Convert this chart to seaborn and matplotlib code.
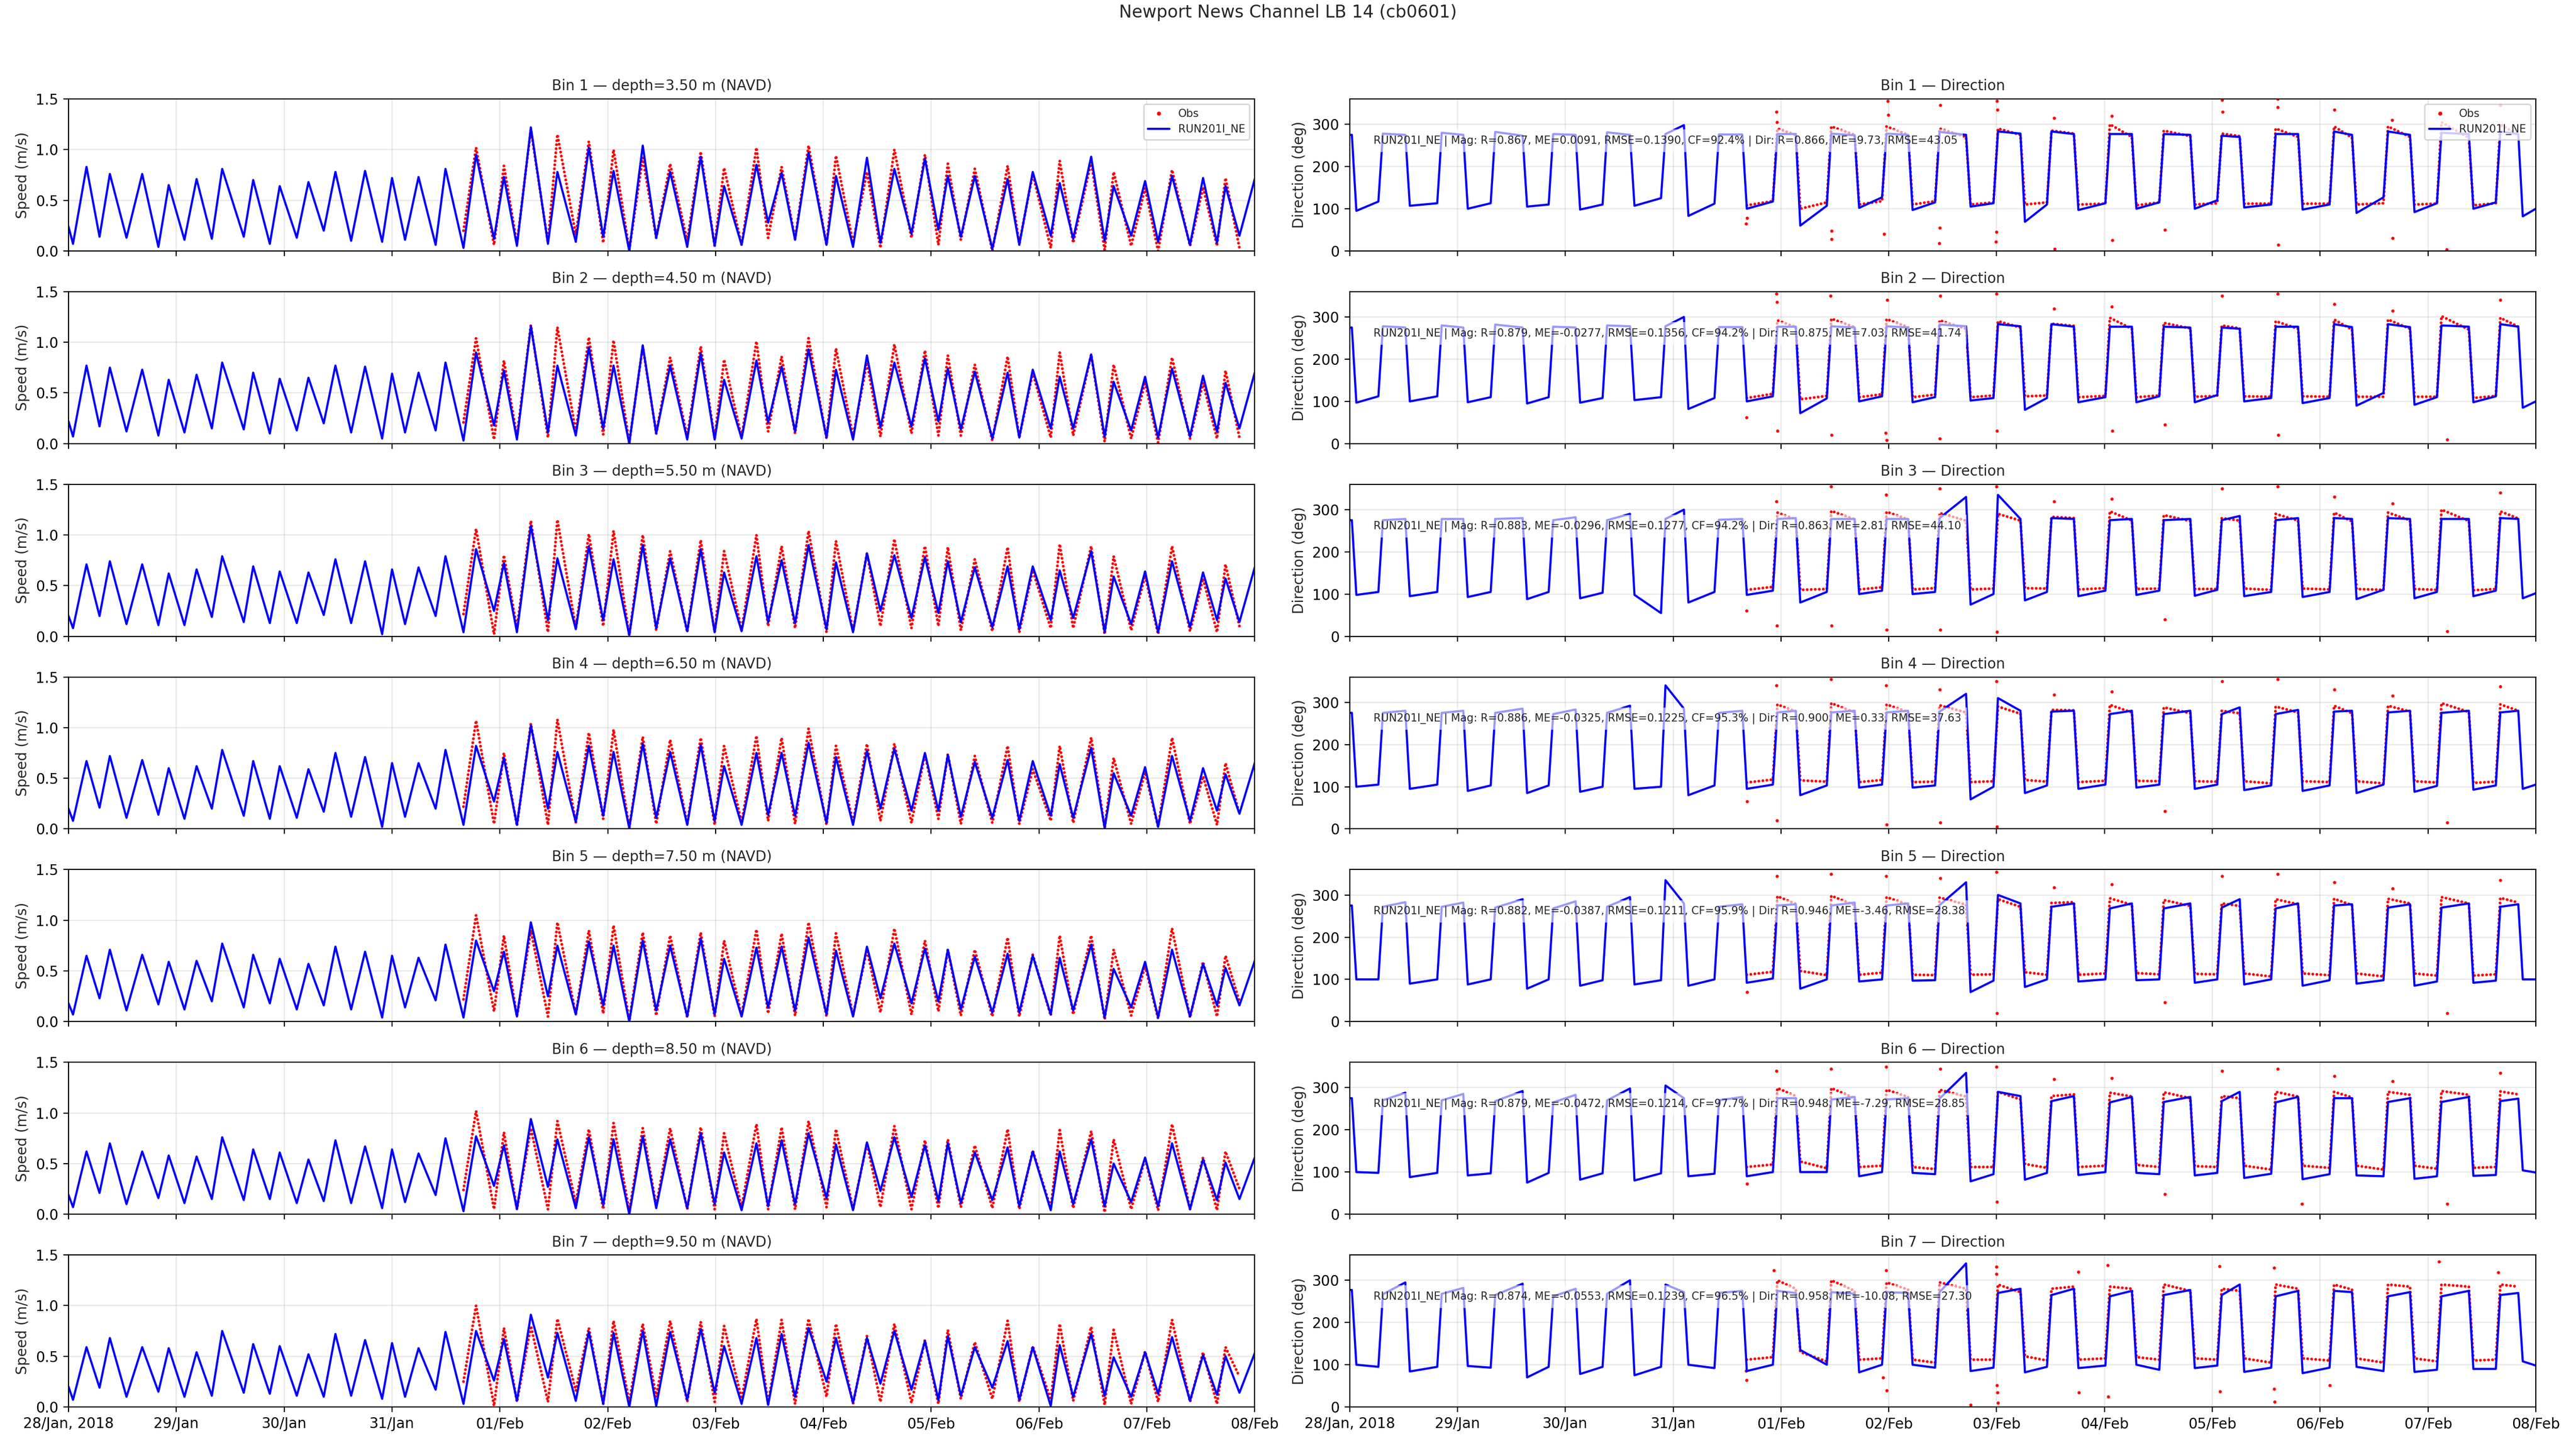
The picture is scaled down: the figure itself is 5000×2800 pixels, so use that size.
import matplotlib
matplotlib.use("Agg")
import matplotlib.pyplot as plt
from matplotlib.lines import Line2D
import pandas as pd
import seaborn as sns

# ---- data (hours from 28 Jan 2018 00:00) ----
t0 = pd.Timestamp("2018-01-28")

# times of the model speed peaks / slacks (shared by all bins)
hours = [0, 1.0, 4.0, 6.9, 9.2, 12.9, 16.4, 20.0, 22.3, 25.8,
         28.5, 31.9, 34.2, 39.0, 41.1, 44.8, 47.0, 50.8, 53.4, 56.8,
         59.4, 62.9, 66.0, 69.8, 72.0, 74.9, 77.9, 81.7, 83.9, 87.9,
         90.7, 94.7, 96.9, 99.8, 102.9, 106.7, 108.8, 112.9, 115.8, 119.0,
         121.3, 124.8, 127.8, 130.8, 133.9, 137.7, 140.7, 143.8, 145.9, 149.8,
         153.1, 155.7, 158.7, 161.7, 164.7, 168.7, 170.8, 174.6, 177.7, 180.7,
         183.8, 187.6, 190.6, 193.6, 195.7, 198.6, 201.7, 205.6, 209.0, 211.6,
         214.6, 218.6, 220.6, 223.6, 227.6, 230.6, 232.6, 236.5, 239.6, 242.5,
         245.6, 249.6, 252.5, 255.6, 257.5, 260.6, 264.0]
obs_first = 29  # observations start at hours[29]

depths = [3.50, 4.50, 5.50, 6.50, 7.50, 8.50, 9.50]

spd_b1 = [0.24, 0.07, 0.83, 0.14, 0.76, 0.13, 0.76, 0.04, 0.65, 0.11,
          0.71, 0.12, 0.81, 0.14, 0.70, 0.07, 0.64, 0.13, 0.68, 0.20,
          0.78, 0.10, 0.79, 0.09, 0.72, 0.11, 0.73, 0.06, 0.81, 0.03,
          0.95, 0.12, 0.73, 0.05, 1.22, 0.07, 0.78, 0.09, 1.02, 0.14,
          0.79, 0.00, 1.04, 0.13, 0.78, 0.04, 0.93, 0.05, 0.64, 0.06,
          0.85, 0.28, 0.77, 0.11, 0.97, 0.06, 0.74, 0.04, 0.92, 0.08,
          0.81, 0.17, 0.91, 0.21, 0.74, 0.14, 0.74, 0.02, 0.71, 0.06,
          0.78, 0.15, 0.67, 0.12, 0.93, 0.10, 0.64, 0.15, 0.69, 0.09,
          0.74, 0.06, 0.72, 0.08, 0.64, 0.15, 0.71]
spd_b2 = [0.22, 0.07, 0.77, 0.17, 0.75, 0.12, 0.73, 0.08, 0.63, 0.11,
          0.68, 0.15, 0.80, 0.14, 0.70, 0.10, 0.64, 0.13, 0.65, 0.20,
          0.77, 0.11, 0.76, 0.05, 0.69, 0.11, 0.70, 0.13, 0.80, 0.03,
          0.90, 0.18, 0.72, 0.04, 1.16, 0.11, 0.77, 0.08, 0.95, 0.15,
          0.77, 0.00, 0.97, 0.10, 0.77, 0.04, 0.89, 0.04, 0.63, 0.05,
          0.82, 0.21, 0.76, 0.12, 0.93, 0.06, 0.73, 0.04, 0.87, 0.16,
          0.80, 0.17, 0.84, 0.22, 0.74, 0.14, 0.71, 0.05, 0.70, 0.06,
          0.73, 0.15, 0.66, 0.15, 0.88, 0.07, 0.61, 0.13, 0.66, 0.06,
          0.74, 0.07, 0.67, 0.12, 0.60, 0.15, 0.70]
spd_b3 = [0.20, 0.08, 0.71, 0.20, 0.74, 0.12, 0.71, 0.11, 0.62, 0.11,
          0.66, 0.19, 0.79, 0.14, 0.69, 0.13, 0.64, 0.13, 0.63, 0.21,
          0.76, 0.13, 0.74, 0.02, 0.66, 0.12, 0.68, 0.20, 0.79, 0.04,
          0.86, 0.25, 0.72, 0.04, 1.09, 0.16, 0.77, 0.07, 0.89, 0.16,
          0.76, 0.01, 0.90, 0.08, 0.77, 0.05, 0.86, 0.04, 0.63, 0.05,
          0.79, 0.14, 0.75, 0.13, 0.90, 0.07, 0.73, 0.04, 0.82, 0.25,
          0.80, 0.18, 0.78, 0.23, 0.74, 0.14, 0.68, 0.09, 0.69, 0.07,
          0.69, 0.16, 0.65, 0.18, 0.84, 0.04, 0.59, 0.12, 0.64, 0.04,
          0.74, 0.09, 0.63, 0.16, 0.57, 0.14, 0.68]
spd_b4 = [0.20, 0.08, 0.67, 0.21, 0.72, 0.11, 0.68, 0.14, 0.60, 0.10,
          0.62, 0.20, 0.78, 0.13, 0.67, 0.10, 0.62, 0.11, 0.59, 0.17,
          0.75, 0.12, 0.71, 0.02, 0.65, 0.12, 0.65, 0.20, 0.78, 0.04,
          0.82, 0.27, 0.70, 0.04, 1.02, 0.20, 0.76, 0.07, 0.82, 0.13,
          0.76, 0.01, 0.84, 0.11, 0.76, 0.04, 0.83, 0.08, 0.62, 0.04,
          0.75, 0.14, 0.75, 0.13, 0.85, 0.06, 0.71, 0.04, 0.77, 0.20,
          0.79, 0.18, 0.75, 0.18, 0.73, 0.12, 0.66, 0.11, 0.68, 0.08,
          0.67, 0.13, 0.64, 0.11, 0.80, 0.01, 0.55, 0.13, 0.61, 0.02,
          0.72, 0.08, 0.60, 0.18, 0.54, 0.15, 0.65]
spd_b5 = [0.18, 0.07, 0.65, 0.23, 0.71, 0.11, 0.66, 0.17, 0.59, 0.12,
          0.60, 0.20, 0.77, 0.14, 0.66, 0.18, 0.62, 0.12, 0.57, 0.16,
          0.74, 0.12, 0.69, 0.04, 0.65, 0.14, 0.63, 0.21, 0.76, 0.04,
          0.80, 0.30, 0.69, 0.05, 0.98, 0.25, 0.75, 0.07, 0.79, 0.16,
          0.75, 0.00, 0.80, 0.11, 0.75, 0.05, 0.82, 0.07, 0.62, 0.05,
          0.73, 0.14, 0.74, 0.11, 0.83, 0.07, 0.70, 0.05, 0.74, 0.23,
          0.77, 0.18, 0.72, 0.20, 0.71, 0.12, 0.64, 0.09, 0.67, 0.09,
          0.65, 0.07, 0.63, 0.11, 0.76, 0.04, 0.52, 0.14, 0.59, 0.04,
          0.71, 0.05, 0.57, 0.16, 0.53, 0.16, 0.60]
spd_b6 = [0.19, 0.07, 0.62, 0.21, 0.70, 0.10, 0.62, 0.16, 0.58, 0.11,
          0.57, 0.15, 0.76, 0.14, 0.64, 0.15, 0.61, 0.11, 0.54, 0.13,
          0.73, 0.11, 0.67, 0.06, 0.64, 0.12, 0.60, 0.19, 0.75, 0.03,
          0.77, 0.28, 0.68, 0.05, 0.94, 0.27, 0.74, 0.06, 0.76, 0.09,
          0.74, 0.00, 0.77, 0.06, 0.74, 0.06, 0.80, 0.10, 0.61, 0.04,
          0.70, 0.08, 0.73, 0.10, 0.80, 0.16, 0.69, 0.04, 0.71, 0.23,
          0.76, 0.17, 0.68, 0.13, 0.70, 0.11, 0.61, 0.14, 0.66, 0.08,
          0.62, 0.04, 0.62, 0.10, 0.74, 0.08, 0.50, 0.12, 0.56, 0.08,
          0.70, 0.05, 0.54, 0.14, 0.51, 0.15, 0.56]
spd_b7 = [0.20, 0.07, 0.59, 0.19, 0.68, 0.10, 0.59, 0.15, 0.58, 0.10,
          0.54, 0.11, 0.75, 0.14, 0.62, 0.13, 0.60, 0.11, 0.52, 0.10,
          0.72, 0.11, 0.66, 0.08, 0.63, 0.10, 0.58, 0.17, 0.74, 0.03,
          0.75, 0.26, 0.67, 0.06, 0.91, 0.29, 0.73, 0.06, 0.74, 0.03,
          0.73, 0.00, 0.75, 0.01, 0.74, 0.07, 0.77, 0.14, 0.60, 0.03,
          0.68, 0.02, 0.72, 0.10, 0.78, 0.25, 0.68, 0.04, 0.68, 0.23,
          0.75, 0.17, 0.65, 0.07, 0.70, 0.11, 0.59, 0.19, 0.65, 0.07,
          0.59, 0.01, 0.61, 0.10, 0.72, 0.11, 0.49, 0.10, 0.54, 0.13,
          0.69, 0.06, 0.51, 0.12, 0.50, 0.14, 0.53]

# observed speed at hours[29:86]
obs_spd_b1 = [0.20, 1.02, 0.06, 0.84, 0.07, 1.20, 0.08, 1.15, 0.16, 1.08,
              0.08, 1.00, 0.01, 0.92, 0.13, 0.86, 0.10, 0.98, 0.05, 0.82,
              0.06, 1.02, 0.13, 0.83, 0.12, 1.04, 0.06, 0.94, 0.08, 0.78,
              0.03, 1.00, 0.13, 0.95, 0.06, 0.86, 0.11, 0.81, 0.00, 0.84,
              0.07, 0.76, 0.03, 0.89, 0.08, 0.88, 0.01, 0.78, 0.05, 0.62,
              0.00, 0.80, 0.05, 0.63, 0.05, 0.72, 0.03]
obs_spd_b2 = [0.21, 1.04, 0.04, 0.82, 0.07, 1.17, 0.06, 1.15, 0.12, 1.05,
              0.09, 1.02, 0.01, 0.96, 0.10, 0.85, 0.07, 0.96, 0.05, 0.83,
              0.06, 1.01, 0.12, 0.86, 0.10, 1.04, 0.05, 0.94, 0.07, 0.80,
              0.07, 0.98, 0.10, 0.92, 0.08, 0.87, 0.08, 0.78, 0.03, 0.86,
              0.06, 0.70, 0.06, 0.90, 0.08, 0.88, 0.02, 0.78, 0.05, 0.61,
              0.01, 0.85, 0.05, 0.60, 0.05, 0.72, 0.06]
obs_spd_b3 = [0.22, 1.06, 0.02, 0.80, 0.08, 1.14, 0.04, 1.15, 0.08, 1.01,
              0.10, 1.04, 0.01, 1.00, 0.06, 0.84, 0.04, 0.95, 0.04, 0.84,
              0.06, 1.00, 0.10, 0.89, 0.08, 1.04, 0.04, 0.94, 0.05, 0.82,
              0.10, 0.96, 0.08, 0.89, 0.10, 0.88, 0.06, 0.76, 0.05, 0.88,
              0.04, 0.65, 0.08, 0.91, 0.08, 0.89, 0.02, 0.79, 0.06, 0.60,
              0.02, 0.89, 0.05, 0.57, 0.04, 0.71, 0.10]
obs_spd_b4 = [0.22, 1.07, 0.05, 0.75, 0.03, 1.04, 0.04, 1.08, 0.06, 0.95,
              0.10, 0.98, 0.01, 0.91, 0.05, 0.88, 0.05, 0.90, 0.04, 0.82,
              0.06, 0.92, 0.08, 0.90, 0.05, 0.99, 0.04, 0.82, 0.06, 0.84,
              0.08, 0.84, 0.06, 0.74, 0.10, 0.74, 0.05, 0.72, 0.06, 0.82,
              0.05, 0.59, 0.08, 0.82, 0.06, 0.90, 0.01, 0.70, 0.05, 0.56,
              0.02, 0.90, 0.05, 0.52, 0.04, 0.65, 0.15]
obs_spd_b5 = [0.22, 1.05, 0.10, 0.85, 0.05, 0.90, 0.05, 0.98, 0.07, 0.90,
              0.08, 0.95, 0.01, 0.88, 0.06, 0.85, 0.04, 0.88, 0.05, 0.80,
              0.06, 0.91, 0.08, 0.87, 0.06, 0.98, 0.05, 0.87, 0.06, 0.71,
              0.09, 0.92, 0.07, 0.80, 0.10, 0.71, 0.06, 0.71, 0.05, 0.83,
              0.05, 0.66, 0.06, 0.85, 0.07, 0.85, 0.02, 0.71, 0.06, 0.55,
              0.03, 0.92, 0.04, 0.59, 0.05, 0.65, 0.20]
obs_spd_b6 = [0.24, 1.02, 0.05, 0.81, 0.05, 0.85, 0.05, 0.92, 0.11, 0.84,
              0.05, 0.90, 0.03, 0.85, 0.08, 0.85, 0.05, 0.86, 0.05, 0.80,
              0.07, 0.89, 0.05, 0.86, 0.05, 0.92, 0.07, 0.84, 0.05, 0.70,
              0.07, 0.87, 0.05, 0.73, 0.06, 0.74, 0.07, 0.68, 0.06, 0.84,
              0.05, 0.63, 0.06, 0.83, 0.06, 0.82, 0.02, 0.74, 0.05, 0.55,
              0.04, 0.89, 0.05, 0.56, 0.04, 0.62, 0.25]
obs_spd_b7 = [0.25, 1.00, 0.01, 0.78, 0.05, 0.80, 0.05, 0.87, 0.16, 0.78,
              0.03, 0.85, 0.05, 0.82, 0.10, 0.85, 0.05, 0.84, 0.05, 0.80,
              0.08, 0.87, 0.03, 0.86, 0.03, 0.87, 0.10, 0.82, 0.03, 0.70,
              0.05, 0.82, 0.04, 0.66, 0.03, 0.76, 0.08, 0.64, 0.08, 0.85,
              0.05, 0.60, 0.07, 0.82, 0.06, 0.79, 0.02, 0.76, 0.03, 0.55,
              0.05, 0.86, 0.05, 0.54, 0.03, 0.59, 0.30]

# model direction (start, end) of each flood / ebb plateau between slacks
dir_b1 = [(275, 275), (95, 117), (278, 275), (107, 113), (280, 275), (100, 113), (282, 273), (105, 110),
          (277, 275), (98, 110), (281, 275), (107, 125), (277, 298), (83, 112), (276, 276), (100, 117),
          (277, 277), (60, 107), (278, 274), (102, 127), (278, 275), (97, 115), (282, 275), (105, 113),
          (283, 278), (69, 110), (283, 277), (97, 113), (277, 277), (100, 115), (277, 275), (100, 120),
          (273, 270), (103, 110), (277, 277), (98, 110), (283, 275), (90, 127), (283, 275), (92, 113),
          (280, 277), (100, 115), (283, 277), (82, 100)]
dir_b2 = [(275, 275), (97, 112), (278, 275), (100, 112), (280, 275), (98, 110), (282, 275), (95, 110),
          (277, 275), (97, 108), (280, 278), (103, 110), (278, 300), (82, 108), (276, 276), (100, 112),
          (277, 277), (72, 107), (278, 275), (100, 112), (278, 275), (98, 110), (282, 278), (102, 108),
          (283, 278), (80, 108), (283, 277), (98, 110), (277, 277), (98, 112), (277, 275), (98, 115),
          (275, 272), (100, 108), (277, 277), (96, 108), (283, 276), (90, 120), (283, 276), (92, 110),
          (280, 277), (98, 112), (283, 277), (85, 100)]
dir_b3 = [(275, 275), (98, 105), (275, 278), (95, 105), (278, 278), (93, 105), (278, 280), (88, 105),
          (275, 282), (90, 103), (275, 290), (98, 55), (278, 300), (80, 105), (276, 278), (98, 108),
          (278, 280), (80, 105), (278, 278), (100, 108), (278, 278), (100, 105), (280, 330), (75, 100),
          (335, 278), (85, 105), (280, 278), (95, 108), (275, 278), (98, 108), (275, 278), (96, 110),
          (275, 285), (95, 105), (275, 280), (93, 105), (280, 278), (88, 110), (280, 278), (90, 105),
          (278, 278), (95, 108), (280, 278), (90, 102)]
dir_b4 = [(275, 275), (100, 105), (275, 280), (95, 105), (275, 280), (90, 103), (275, 285), (85, 103),
          (272, 283), (88, 100), (275, 292), (95, 100), (340, 285), (80, 103), (275, 280), (95, 105),
          (276, 280), (80, 103), (276, 280), (98, 105), (276, 280), (98, 103), (278, 320), (70, 100),
          (310, 280), (85, 103), (278, 280), (95, 105), (272, 280), (98, 105), (272, 280), (95, 105),
          (272, 288), (92, 103), (272, 282), (90, 103), (278, 280), (85, 105), (276, 280), (88, 102),
          (275, 280), (93, 103), (276, 280), (95, 105)]
dir_b5 = [(275, 275), (100, 100), (272, 283), (90, 100), (272, 282), (88, 100), (270, 290), (78, 100),
          (268, 285), (85, 98), (272, 295), (88, 98), (335, 280), (85, 100), (272, 278), (92, 102),
          (275, 278), (78, 100), (275, 282), (95, 100), (275, 280), (97, 98), (276, 330), (70, 97),
          (300, 280), (82, 100), (272, 280), (95, 100), (268, 280), (98, 100), (268, 280), (92, 100),
          (270, 290), (88, 100), (268, 280), (85, 98), (275, 278), (90, 98), (270, 278), (85, 95),
          (270, 280), (92, 97), (272, 278), (100, 100)]
dir_b6 = [(275, 275), (100, 98), (270, 288), (88, 98), (270, 285), (92, 97), (268, 292), (75, 98),
          (265, 283), (82, 97), (270, 298), (80, 97), (305, 275), (90, 96), (270, 278), (90, 100),
          (275, 275), (100, 100), (272, 278), (90, 100), (272, 275), (98, 95), (274, 335), (78, 95),
          (290, 280), (82, 98), (268, 280), (93, 100), (265, 278), (98, 95), (266, 278), (92, 98),
          (268, 290), (86, 96), (265, 278), (83, 95), (275, 275), (92, 90), (266, 275), (84, 90),
          (266, 278), (91, 93), (268, 274), (104, 99)]
dir_b7 = [(277, 277), (100, 95), (267, 295), (84, 95), (268, 282), (97, 93), (265, 292), (70, 95),
          (262, 280), (78, 95), (268, 300), (75, 95), (290, 272), (100, 92), (270, 275), (85, 100),
          (275, 270), (135, 100), (272, 268), (82, 100), (272, 270), (100, 93), (272, 340), (85, 93),
          (270, 280), (82, 95), (265, 280), (92, 98), (262, 275), (100, 88), (265, 277), (92, 98),
          (265, 290), (83, 93), (262, 275), (80, 93), (275, 272), (95, 85), (262, 272), (83, 88),
          (262, 275), (90, 90), (265, 270), (108, 98)]

# observed direction plateaus (start, end), plateaus 15..42
obs_dir_b1 = [(108, 118), (290, 275), (100, 115), (295, 275), (110, 118), (295, 275), (110, 118),
              (290, 270), (110, 115), (290, 275), (110, 115), (285, 278), (110, 112), (300, 270),
              (108, 115), (285, 272), (110, 113), (278, 272), (112, 112), (290, 270), (112, 112),
              (295, 268), (110, 113), (295, 270), (110, 112), (305, 268), (108, 113), (300, 275)]
obs_dir_b2 = [(108, 118), (292, 276), (105, 113), (296, 276), (110, 117), (295, 276), (110, 116),
              (292, 272), (110, 114), (290, 275), (112, 114), (284, 279), (110, 113), (298, 272),
              (110, 114), (286, 273), (111, 113), (280, 273), (112, 111), (290, 272), (112, 111),
              (294, 270), (111, 111), (294, 272), (111, 111), (302, 270), (108, 113), (298, 277)]
obs_dir_b3 = [(110, 117), (293, 277), (110, 112), (297, 277), (111, 116), (295, 277), (111, 114),
              (292, 274), (111, 113), (290, 274), (114, 113), (283, 280), (111, 114), (296, 274),
              (112, 113), (287, 273), (112, 112), (280, 274), (113, 110), (290, 274), (113, 111),
              (293, 272), (112, 110), (293, 275), (112, 110), (300, 273), (109, 112), (296, 279)]
obs_dir_b4 = [(110, 117), (295, 278), (115, 112), (298, 276), (111, 116), (295, 277), (111, 112),
              (293, 276), (111, 113), (290, 273), (116, 112), (282, 281), (111, 114), (294, 276),
              (114, 113), (288, 274), (113, 112), (280, 274), (113, 108), (290, 276), (113, 111),
              (292, 274), (113, 108), (292, 278), (113, 110), (298, 277), (109, 112), (295, 280)]
obs_dir_b5 = [(111, 118), (297, 279), (120, 110), (298, 276), (111, 116), (295, 277), (111, 110),
              (294, 277), (111, 112), (290, 272), (117, 111), (281, 283), (111, 114), (292, 277),
              (115, 112), (288, 274), (113, 112), (280, 274), (114, 107), (290, 278), (114, 110),
              (291, 276), (114, 107), (291, 280), (114, 109), (295, 280), (109, 112), (293, 282)]
obs_dir_b6 = [(112, 118), (299, 280), (125, 109), (299, 275), (112, 115), (295, 278), (112, 107),
              (295, 279), (112, 112), (290, 272), (119, 110), (280, 284), (112, 115), (288, 279),
              (117, 112), (289, 275), (114, 112), (280, 275), (115, 106), (290, 279), (115, 110),
              (290, 277), (115, 106), (290, 283), (115, 108), (292, 283), (110, 112), (291, 284)]
obs_dir_b7 = [(112, 118), (300, 280), (130, 108), (300, 275), (112, 115), (295, 278), (112, 105),
              (295, 280), (112, 112), (290, 272), (120, 110), (280, 285), (112, 115), (285, 280),
              (118, 112), (290, 275), (115, 112), (280, 275), (115, 105), (290, 280), (115, 110),
              (290, 278), (115, 105), (290, 285), (115, 108), (290, 285), (110, 112), (290, 285)]

# scattered observed direction readings at slack water (hour, deg)
spk_t_b1 = [88.2, 88.4, 95.0, 95.1, 107.2, 107.3, 118.9, 119.8, 119.9, 131.2, 131.3, 131.5, 143.8, 143.9,
            144.1, 144.2, 156.8, 156.9, 169.6, 169.7, 181.4, 194.2, 194.3, 206.5, 206.6, 206.7, 219.2,
            232.0, 232.1, 244.2, 256.1]
spk_v_b1 = [65, 78, 330, 305, 28, 48, 40, 355, 322, 18, 55, 345, 22, 45, 355, 335, 315, 5, 320, 25,
            50, 358, 330, 360, 340, 15, 335, 310, 30, 3, 345]
spk_t_b2 = [88.3, 95.0, 95.1, 95.2, 107.0, 107.2, 119.3, 119.5, 119.6, 131.3, 131.4, 144.0, 144.1, 156.8,
            169.6, 169.7, 181.5, 194.2, 206.6, 206.7, 219.2, 232.1, 244.3, 256.1]
spk_v_b2 = [62, 355, 335, 30, 350, 20, 25, 8, 340, 12, 350, 355, 30, 320, 325, 30, 45, 350, 355, 20,
            330, 315, 10, 340]
spk_t_b3 = [88.3, 95.0, 95.1, 107.1, 107.2, 119.4, 119.5, 131.3, 131.4, 144.0, 144.1, 156.8, 169.6,
            181.5, 194.2, 206.6, 219.2, 232.1, 244.3, 256.1]
spk_v_b3 = [60, 320, 25, 355, 25, 335, 15, 350, 15, 355, 10, 320, 325, 40, 350, 355, 330, 315, 12, 340]
spk_t_b4 = [88.4, 95.0, 95.1, 107.1, 119.4, 119.5, 131.3, 131.4, 144.0, 144.1, 156.8, 169.6, 181.5,
            194.2, 206.6, 219.2, 232.1, 244.3, 256.1]
spk_v_b4 = [65, 340, 20, 355, 340, 10, 330, 15, 350, 5, 318, 325, 42, 350, 355, 330, 315, 15, 338]
spk_t_b5 = [88.4, 95.1, 107.1, 119.4, 131.4, 143.9, 144.1, 156.8, 169.6, 181.5, 194.2, 206.6, 219.2,
            232.1, 244.3, 256.1]
spk_v_b5 = [70, 345, 350, 345, 340, 355, 20, 318, 325, 45, 345, 350, 330, 315, 20, 335]
spk_t_b6 = [88.4, 95.0, 107.1, 119.4, 131.4, 144.0, 144.1, 156.8, 169.6, 181.5, 194.2, 206.6, 212.0,
            219.2, 232.1, 244.3, 256.1]
spk_v_b6 = [72, 340, 345, 350, 345, 350, 30, 320, 322, 48, 340, 345, 25, 328, 315, 25, 335]
spk_t_b7 = [88.2, 88.3, 94.4, 118.7, 119.4, 119.5, 138.2, 143.9, 144.0, 144.1, 144.2, 144.3, 162.2, 162.3,
            168.7, 168.8, 193.6, 193.7, 205.7, 205.8, 205.9, 218.1, 242.4, 255.6]
spk_v_b7 = [86, 63, 324, 70, 324, 39, 5, 332, 315, 51, 34, 10, 320, 34, 336, 24, 333, 37, 330, 43,
            12, 51, 344, 319]

stats = [
    "RUN201I_NE | Mag: R=0.867, ME=0.0091, RMSE=0.1390, CF=92.4% | Dir: R=0.866, ME=9.73, RMSE=43.05",
    "RUN201I_NE | Mag: R=0.879, ME=-0.0277, RMSE=0.1356, CF=94.2% | Dir: R=0.875, ME=7.03, RMSE=41.74",
    "RUN201I_NE | Mag: R=0.883, ME=-0.0296, RMSE=0.1277, CF=94.2% | Dir: R=0.863, ME=2.81, RMSE=44.10",
    "RUN201I_NE | Mag: R=0.886, ME=-0.0325, RMSE=0.1225, CF=95.3% | Dir: R=0.900, ME=0.33, RMSE=37.63",
    "RUN201I_NE | Mag: R=0.882, ME=-0.0387, RMSE=0.1211, CF=95.9% | Dir: R=0.946, ME=-3.46, RMSE=28.38",
    "RUN201I_NE | Mag: R=0.879, ME=-0.0472, RMSE=0.1214, CF=97.7% | Dir: R=0.948, ME=-7.29, RMSE=28.85",
    "RUN201I_NE | Mag: R=0.874, ME=-0.0553, RMSE=0.1239, CF=96.5% | Dir: R=0.958, ME=-10.08, RMSE=27.30",
]
tick_labels = ["28/Jan, 2018", "29/Jan", "30/Jan", "31/Jan", "01/Feb", "02/Feb",
               "03/Feb", "04/Feb", "05/Feb", "06/Feb", "07/Feb", "08/Feb"]

spd = [spd_b1, spd_b2, spd_b3, spd_b4, spd_b5, spd_b6, spd_b7]
obs_spd = [obs_spd_b1, obs_spd_b2, obs_spd_b3, obs_spd_b4, obs_spd_b5, obs_spd_b6, obs_spd_b7]
dirs = [dir_b1, dir_b2, dir_b3, dir_b4, dir_b5, dir_b6, dir_b7]
obs_dirs = [obs_dir_b1, obs_dir_b2, obs_dir_b3, obs_dir_b4, obs_dir_b5, obs_dir_b6, obs_dir_b7]
spk_t = [spk_t_b1, spk_t_b2, spk_t_b3, spk_t_b4, spk_t_b5, spk_t_b6, spk_t_b7]
spk_v = [spk_v_b1, spk_v_b2, spk_v_b3, spk_v_b4, spk_v_b5, spk_v_b6, spk_v_b7]


def to_time(h):
    return t0 + pd.to_timedelta(list(h), unit="h")


# plateau edges: slack times, plateau drawn half an hour inside each slack
slacks = [hours[0]] + hours[1::2] + [hours[-1]]
plat_a = [slacks[0]] + [s + 0.5 for s in slacks[1:-1]]
plat_b = [s - 0.5 for s in slacks[1:-1]] + [slacks[-1]]


def plateau_xy(pairs, first):
    xs, ys = [], []
    for k, (a, b) in enumerate(pairs):
        xs += [plat_a[first + k], plat_b[first + k]]
        ys += [a, b]
    return to_time(xs), ys


# ---- figure ----
sns.set_style("ticks", {"axes.edgecolor": "black", "xtick.color": "black", "ytick.color": "black"})
plt.rcParams["font.family"] = ["DejaVu Sans"]

fig, axes = plt.subplots(7, 2, figsize=(25, 14), dpi=200, sharex=True)
fig.subplots_adjust(left=0.0266, right=0.9844, top=0.9314, bottom=0.025, hspace=0.268, wspace=0.08)

obs_style = dict(color="red", lw=2.0, linestyle=(0, (0.01, 1.4)), dash_capstyle="round")
mod_style = dict(color="blue", lw=1.5)

t_mod = to_time(hours)

for b in range(7):
    ax_s, ax_d = axes[b, 0], axes[b, 1]

    t_obs = to_time(hours[obs_first:obs_first + len(obs_spd[b])])
    sns.lineplot(x=t_obs, y=obs_spd[b], ax=ax_s, estimator=None, sort=False, **obs_style)
    sns.lineplot(x=t_mod, y=spd[b], ax=ax_s, estimator=None, sort=False, **mod_style)
    ax_s.set_ylim(0, 1.5)
    ax_s.set_yticks([0, 0.5, 1.0, 1.5])
    ax_s.set_ylabel("Speed (m/s)", fontsize=10)
    ax_s.set_title(f"Bin {b + 1} \u2014 depth={depths[b]:.2f} m (NAVD)", fontsize=10)

    xo, yo = plateau_xy(obs_dirs[b], 15)
    sns.lineplot(x=xo, y=yo, ax=ax_d, estimator=None, sort=False, **obs_style)
    sns.scatterplot(x=to_time(spk_t[b]), y=spk_v[b], ax=ax_d, color="red", s=5, linewidth=0)
    xm, ym = plateau_xy(dirs[b], 0)
    sns.lineplot(x=xm, y=ym, ax=ax_d, estimator=None, sort=False, **mod_style)
    ax_d.set_ylim(0, 360)
    ax_d.set_yticks([0, 100, 200, 300])
    ax_d.set_ylabel("Direction (deg)", fontsize=10)
    ax_d.set_title(f"Bin {b + 1} \u2014 Direction", fontsize=10)
    ax_d.text(0.02, 0.725, stats[b], transform=ax_d.transAxes, fontsize=7.5, ha="left", va="center",
              bbox=dict(facecolor="white", alpha=0.6, edgecolor="none"), zorder=6)

    for ax in (ax_s, ax_d):
        ax.grid(True, color="#b0b0b0", alpha=0.3, lw=0.8)
        ax.tick_params(labelsize=10)
        ax.set_xlabel("")

handles = [Line2D([], [], ls="none", marker="o", ms=1.8, color="red"),
           Line2D([], [], **mod_style)]
for ax in axes[0]:
    ax.legend(handles, ["Obs", "RUN201I_NE"], loc="upper right", fontsize=7.5)

days = pd.date_range(t0, periods=12, freq="D")
for ax in axes[-1]:
    ax.set_xticks(days)
    ax.set_xticklabels(tick_labels)
axes[-1, 0].set_xlim(days[0], days[-1])

fig.suptitle("Newport News Channel LB 14 (cb0601)", fontsize=12, y=0.997)
fig.savefig("out.png", dpi=200)
